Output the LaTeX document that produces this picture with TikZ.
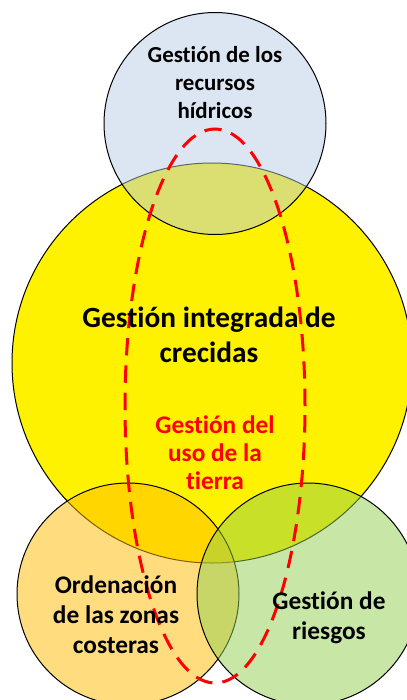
\documentclass[tikz,border=0pt]{standalone}
\usepackage{fontspec}
\setmainfont{Carlito}[Ligatures=NoCommon]
\usepackage{xcolor}
\usetikzlibrary{shapes.geometric}

\definecolor{waterblue}{RGB}{185,205,229}
\definecolor{coastorange}{RGB}{255,188,0}
\definecolor{riskgreen}{RGB}{146,208,80}
\definecolor{landred}{RGB}{255,0,0}

\begin{document}
\begin{tikzpicture}[
    x=0.75pt, y=-0.75pt,
    zone/.style={circle, draw=black, line width=0.75pt, fill opacity=0.5, inner sep=0pt, minimum size=166.5pt},
    landuse/.style={ellipse, draw=landred, line width=2.25pt, dash pattern=on 13pt off 7.5pt, minimum width=135pt, minimum height=415.5pt, inner sep=0pt},
    zonetext/.style={align=center, font=\fontsize{19}{22.5}\selectfont\bfseries},
    bigtext/.style={align=center, font=\fontsize{22}{26.25}\selectfont\bfseries}
]
    \useasboundingbox (0,0) rectangle (407,700);
    \clip (0,0) rectangle (407,700);

    % circles
    \node[zone, fill=yellow, fill opacity=1, minimum size=300pt] (flood) at (212,363) {};
    \node[zone, fill=waterblue] (water) at (215,123.5) {};
    \node[zone, fill=coastorange] (coast) at (128,594) {};
    \node[zone, fill=riskgreen] (risk) at (308,594) {};
    \node[landuse] (land) at (215,406) {};

    % texts
    \node[zonetext, font=\fontsize{17.2}{21}\selectfont\bfseries] (watertext) at (215,83) {Gestión de los\\recursos\\hídricos};
    \node[bigtext] (floodtext) at (209,334.5) {Gestión integrada de\\crecidas};
    \node[zonetext, font=\fontsize{19}{21}\selectfont\bfseries, text=landred] (landtext) at (215,453) {Gestión del\\uso de la\\tierra};
    \node[zonetext] (coasttext) at (116,615) {Ordenación\\de las zonas\\costeras};
    \node[zonetext] (risktext) at (329,618) {Gestión de\\riesgos};
\end{tikzpicture}
\end{document}
